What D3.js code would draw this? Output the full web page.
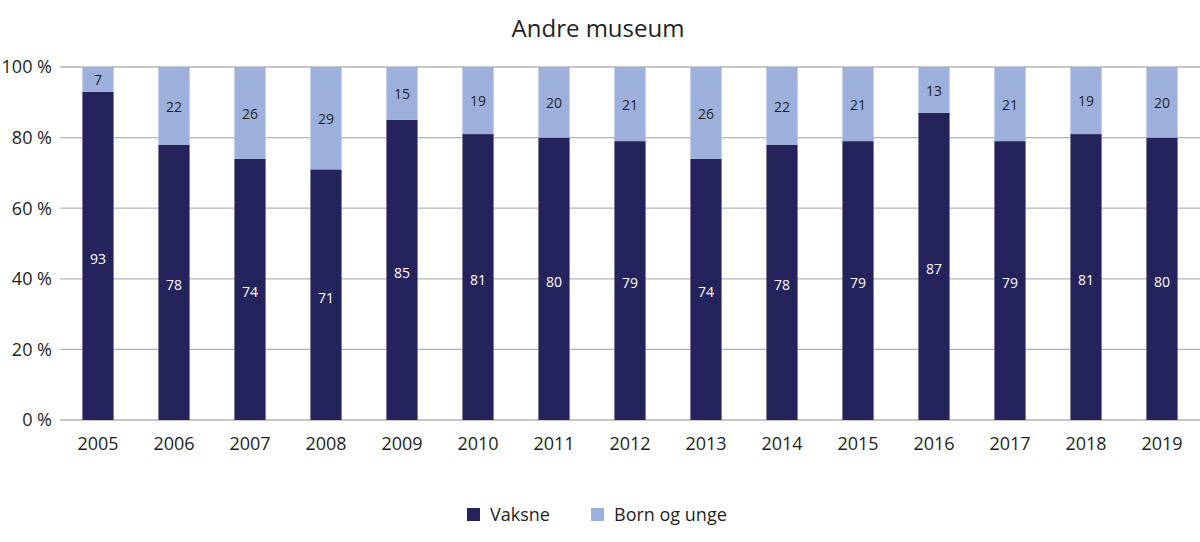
<!DOCTYPE html>
<html><head><meta charset="utf-8">
<script src="https://cdn.jsdelivr.net/npm/d3@7"></script>
<style>body{margin:0;background:#fff;} text{font-family:"Open Sans","Noto Sans",sans-serif;fill:#231f20;}</style>
</head><body>
<svg id="c" width="1200" height="542"></svg>
<script>
const years = ["2005","2006","2007","2008","2009","2010","2011","2012","2013","2014","2015","2016","2017","2018","2019"];
const vaksne = [93,78,74,71,85,81,80,79,74,78,79,87,79,81,80];
const born = [7,22,26,29,15,19,20,21,26,22,21,13,21,19,20];
const yTicks = [0,20,40,60,80,100];
const seriesNames = ["Vaksne","Born og unge"];
const colors = ["#25235b","#9db0dc"];

const svg = d3.select("#c");
const m = {l:60, r:0, t:67, b:122};
const W = 1200, H = 542;
const x = d3.scaleBand().domain(years).range([m.l, W-m.r]).paddingInner(0.59).paddingOuter(0.295);
const y = d3.scaleLinear().domain([0,100]).range([H-m.b, m.t]);

svg.append("text").attr("x",598).attr("y",37).attr("text-anchor","middle").style("font-size","24px").text("Andre museum");

const g = svg.append("g");
g.selectAll("line.grid").data(yTicks).join("line")
  .attr("x1",m.l).attr("x2",W).attr("y1",d=>y(d)).attr("y2",d=>y(d))
  .attr("stroke","#b3b3b3").attr("stroke-width",1.3);
g.selectAll("text.yt").data(yTicks).join("text")
  .attr("x",52).attr("y",d=>y(d)).attr("dy","0.35em").attr("text-anchor","end")
  .style("font-size","18px").text(d=>d+" %");

const data = years.map((yr,i)=>({yr, v:vaksne[i], b:born[i]}));
g.selectAll("rect.v").data(data).join("rect")
  .attr("x",d=>x(d.yr)).attr("width",x.bandwidth())
  .attr("y",d=>y(d.v)).attr("height",d=>y(0)-y(d.v)).attr("fill",colors[0]);
g.selectAll("rect.b").data(data).join("rect")
  .attr("x",d=>x(d.yr)).attr("width",x.bandwidth())
  .attr("y",d=>y(d.v+d.b)).attr("height",d=>y(d.v)-y(d.v+d.b)).attr("fill",colors[1]);
g.selectAll("text.vl").data(data).join("text")
  .attr("x",d=>x(d.yr)+x.bandwidth()/2).attr("y",d=>(y(0)+y(d.v))/2+3).attr("dy","0.35em")
  .attr("text-anchor","middle").style("font-size","14px").style("fill","#fff").text(d=>d.v);
g.selectAll("text.bl").data(data).join("text")
  .attr("x",d=>x(d.yr)+x.bandwidth()/2).attr("y",d=>(y(d.v)+y(d.v+d.b))/2+1).attr("dy","0.35em")
  .attr("text-anchor","middle").style("font-size","14px").text(d=>d.b);

g.selectAll("text.xl").data(years).join("text")
  .attr("x",d=>x(d)+x.bandwidth()/2).attr("y",y(0)+30).attr("text-anchor","middle")
  .style("font-size","18px").text(d=>d);

const leg = svg.append("g");
const lx = [467, 591];
seriesNames.forEach((n,i)=>{
  leg.append("rect").attr("x",lx[i]).attr("y",508).attr("width",13).attr("height",13).attr("fill",colors[i]);
  leg.append("text").attr("x",lx[i]+23).attr("y",515).attr("dy","0.35em").style("font-size","18px").text(n);
});
</script>
</body></html>
